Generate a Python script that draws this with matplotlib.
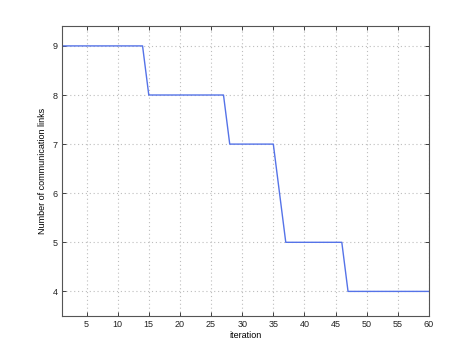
import matplotlib
matplotlib.use("Agg")
import matplotlib.pyplot as plt

# number of communication links at each iteration
iterations = list(range(1, 61))
links = [9] * 14 + [8] * 13 + [7] * 8 + [6] * 1 + [5] * 10 + [4] * 14

x_ticks = [5, 10, 15, 20, 25, 30, 35, 40, 45, 50, 55, 60]
y_ticks = [4, 5, 6, 7, 8, 9]

plt.rcParams['font.family'] = ['Liberation Sans', 'DejaVu Sans']
plt.rcParams['font.size'] = 6.5

fig = plt.figure(figsize=(4.74, 3.55), dpi=100)
ax = fig.add_axes([0.13, 0.11, 0.775, 0.816])

ax.plot(iterations, links, color='#5573e8', linewidth=1.0)

ax.set_xlim(1, 60)
ax.set_ylim(3.5, 9.4)
ax.set_xticks(x_ticks)
ax.set_yticks(y_ticks)
ax.grid(True, linestyle=(0, (1, 2.5)), color='#bdbdbd', linewidth=0.8)
ax.tick_params(direction='in', top=True, right=True, length=3, width=0.6,
               colors='#222222', pad=3)
for s in ax.spines.values():
    s.set_color('#555555')
    s.set_linewidth(0.8)

ax.set_xlabel('iteration', labelpad=1)
ax.set_ylabel('Number of communication links', labelpad=4)

fig.savefig('out.png', dpi=100)
